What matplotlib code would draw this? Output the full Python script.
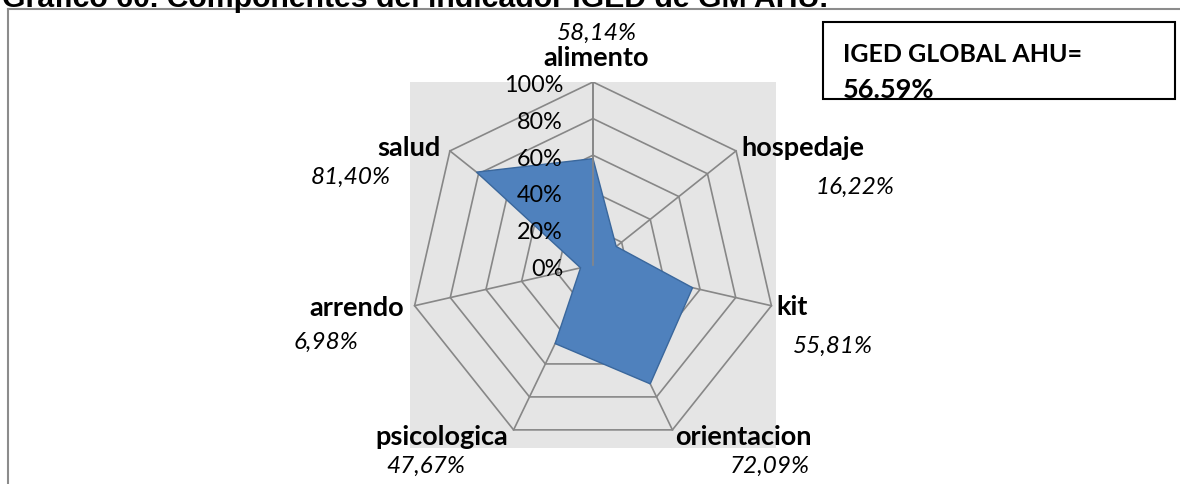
import numpy as np
import matplotlib
matplotlib.use("Agg")
import matplotlib.pyplot as plt
from matplotlib.patches import Rectangle
from matplotlib.lines import Line2D

plt.rcParams['font.family'] = ['Lato', 'DejaVu Sans']

# componentes del indicador (fraccion 0..1)
categorias = ['alimento', 'hospedaje', 'kit', 'orientacion', 'psicologica', 'arrendo', 'salud']
valores = [0.5814, 0.1622, 0.5581, 0.7209, 0.4767, 0.0698, 0.8140]
niveles = [0.0, 0.2, 0.4, 0.6, 0.8, 1.0]
titulo = 'Grafico 60. Componentes del indicador IGED de GM AHU.'
global_txt = 'IGED GLOBAL AHU='
global_val = 56.59

# desplazamientos (px) de etiquetas respecto a cada vertice exterior
off_cat = [(3, 25, 'center'), (5, 4, 'left'), (5, 0, 'left'), (71, -6, 'center'),
           (-72, -6, 'center'), (-11, -1, 'right'), (-9, 4, 'right')]
off_val = [(4, 50), (119, -35), (62, -40), (97, -35), (-88, -35), (-89, -36), (-99, -25)]

W, H = 1180, 485
fig = plt.figure(figsize=(W / 100, H / 100), dpi=100)

# area del radar: cuadrado de 2R px centrado en (cx, cy)
cx, cy, R = 593, 266, 183
ax = fig.add_axes([(cx - R) / W, (H - cy - R) / H, 2 * R / W, 2 * R / H])
ax.set_xlim(-1, 1)
ax.set_ylim(-1, 1)
ax.set_facecolor('#e5e5e5')
for s in ax.spines.values():
    s.set_visible(False)
ax.set_xticks([])
ax.set_yticks([])

n = len(categorias)
ang = np.arange(n) * 2 * np.pi / n
sx, sy = np.sin(ang), np.cos(ang)

grid_col = '#878787'
for r in niveles[1:]:
    ax.plot(np.append(sx, sx[0]) * r, np.append(sy, sy[0]) * r, color=grid_col, lw=1.2, zorder=1)
for i in range(n):
    ax.plot([0, sx[i]], [0, sy[i]], color=grid_col, lw=1.2, zorder=1)

v = np.array(valores)
ax.fill(sx * v, sy * v, facecolor='#4f81bd', edgecolor='#3a679c', lw=1.0, zorder=2)
# radio vertical por encima del area
ax.plot([0, 0], [0, 1], color=grid_col, lw=1.2, zorder=3)

for r in niveles:
    ax.annotate('%d%%' % round(r * 100), xy=(0, r), xytext=(-30, -3), textcoords='offset pixels',
                ha='right', va='center', fontsize=16.8, zorder=4, annotation_clip=False)

for i, cat in enumerate(categorias):
    dx, dy, ha = off_cat[i]
    ax.annotate(cat, xy=(sx[i], sy[i]), xytext=(dx, dy), textcoords='offset pixels',
                ha=ha, va='center', fontsize=19.5, fontweight='bold', annotation_clip=False)
    vx, vy = off_val[i]
    ax.annotate(('%.2f%%' % (valores[i] * 100)).replace('.', ','), xy=(sx[i], sy[i]),
                xytext=(vx, vy), textcoords='offset pixels', ha='center', va='center',
                fontsize=17.5, fontstyle='italic', annotation_clip=False)

# borde del area del grafico
fig.add_artist(Line2D([8 / W, 1], [1 - 10 / H, 1 - 10 / H], color='#8c8c8c', lw=1.5))
fig.add_artist(Line2D([8 / W, 8 / W], [0, 1 - 10 / H], color='#8c8c8c', lw=1.5))

# titulo (cortado en el borde superior)
fig.text(2 / W, 1 - 7 / H, titulo, ha='left', va='baseline', fontsize=21.8, fontweight='bold',
         family=['Liberation Sans', 'DejaVu Sans'])

# recuadro con el indicador global
caja = Rectangle((823 / W, 1 - 100 / H), (1175 - 823) / W, 77 / H, transform=fig.transFigure,
                 facecolor='white', edgecolor='black', lw=1.5, zorder=5)
fig.add_artist(caja)
t1 = fig.text(843 / W, 1 - 55 / H, global_txt, ha='left', va='center', fontsize=18,
              fontweight='bold', zorder=6)
t2 = fig.text(843 / W, 1 - 90 / H, ('%.2f%%' % global_val), ha='left', va='center', fontsize=19.5,
              fontweight='bold', zorder=6)
t2.set_clip_path(caja)

fig.savefig('out.png', dpi=100)
